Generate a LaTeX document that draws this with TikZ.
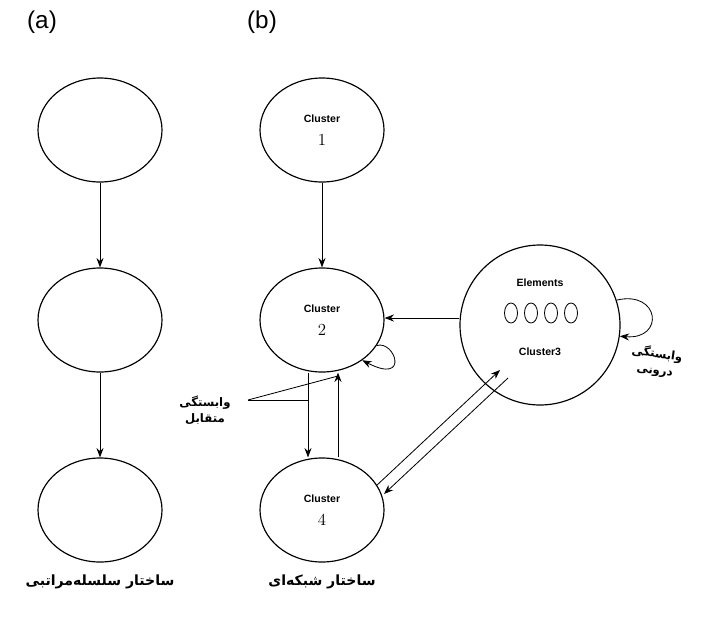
\documentclass[tikz,border=0pt]{standalone}
\usepackage{fontspec}
\setsansfont{Liberation Sans}
\newfontfamily\fa[Script=Arabic]{DejaVu Sans}
\usetikzlibrary{shapes.geometric,arrows.meta}
\TeXXeTstate=1
\newcommand{\rtl}[1]{\beginR #1\endR}
\begin{document}
\begin{tikzpicture}[x=0.03cm,y=-0.03cm,
  ell/.style={draw,ellipse,minimum width=124*0.03cm,minimum height=104*0.03cm,line width=1pt,align=center,font=\Large},
  arr/.style={-{Stealth[length=8pt,width=6pt]},line width=0.7pt},
  fa/.style={font=\fa\bfseries,align=center}]
\useasboundingbox (0,0) rectangle (709,618);
\node[font=\sffamily\huge] (la) at (42,22) {(a)};
\node[font=\sffamily\huge] (lb) at (262,22) {(b)};
\node[ell] (a1) at (100,130) {};
\node[ell] (a2) at (100,320) {};
\node[ell] (a3) at (100,510) {};
\draw[arr] (a1) -- (a2);
\draw[arr] (a2) -- (a3);
\node[ell] (c1) at (322,130) {{\sffamily\bfseries\small Cluster}\\[2pt] 1};
\node[ell] (c2) at (322,320) {{\sffamily\bfseries\small Cluster}\\[2pt] 2};
\node[ell] (c4) at (322,510) {{\sffamily\bfseries\small Cluster}\\[2pt] 4};
\node[draw,circle,minimum size=160*0.03cm,line width=1pt] (c3) at (540,325) {};
\node[font=\sffamily\bfseries\small] (el) at (540,283) {Elements};
\foreach \i/\x in {1/511,2/531,3/551,4/571}
  \node[draw,ellipse,minimum width=13*0.03cm,minimum height=20*0.03cm,inner sep=0pt,line width=0.7pt] (e\i) at (\x,313) {};
\node[font=\sffamily\bfseries\small] (c3l) at (540,352) {Cluster3};
\draw[arr] (c1) -- (c2);
\draw[arr] (c3.west |- 0,318) -- (c2.east |- 0,318);
\draw[arr] (c2.-25) .. controls (395,340) and (410,385) .. (c2.-45);
\draw[arr] ([xshift=-14*0.03cm]c2.south) -- ([xshift=-14*0.03cm]c4.north);
\draw[arr] ([xshift=16*0.03cm]c4.north) -- ([xshift=16*0.03cm]c2.south);
\coordinate (p1) at (376,486);
\coordinate (p2) at (500,370);
\draw[arr] (p1) -- (p2);
\draw[arr] ([shift={(8,8)}]p2) -- ([shift={(8,8)}]p1);
\draw[arr] (c3.18) .. controls (660,290) and (665,340) .. (c3.-8);
\coordinate (m) at (248,400);
\draw[line width=0.7pt] (m) -- (308,400);
\draw[line width=0.7pt] (m) -- (338,376);
\node[fa] (mt) at (205,410) {\rtl{وابستگی}\\[2pt]\rtl{متقابل}};
\node[fa,rotate=-8] (dr) at (656,362) {\rtl{وابستگی}\\[2pt]\rtl{درونی}};
\node[fa,font=\fa\bfseries\large] (ta) at (100,582) {\rtl{ساختار سلسله‌مراتبی}};
\node[fa,font=\fa\bfseries\large] (tb) at (322,582) {\rtl{ساختار شبکه‌ای}};
\end{tikzpicture}
\end{document}
